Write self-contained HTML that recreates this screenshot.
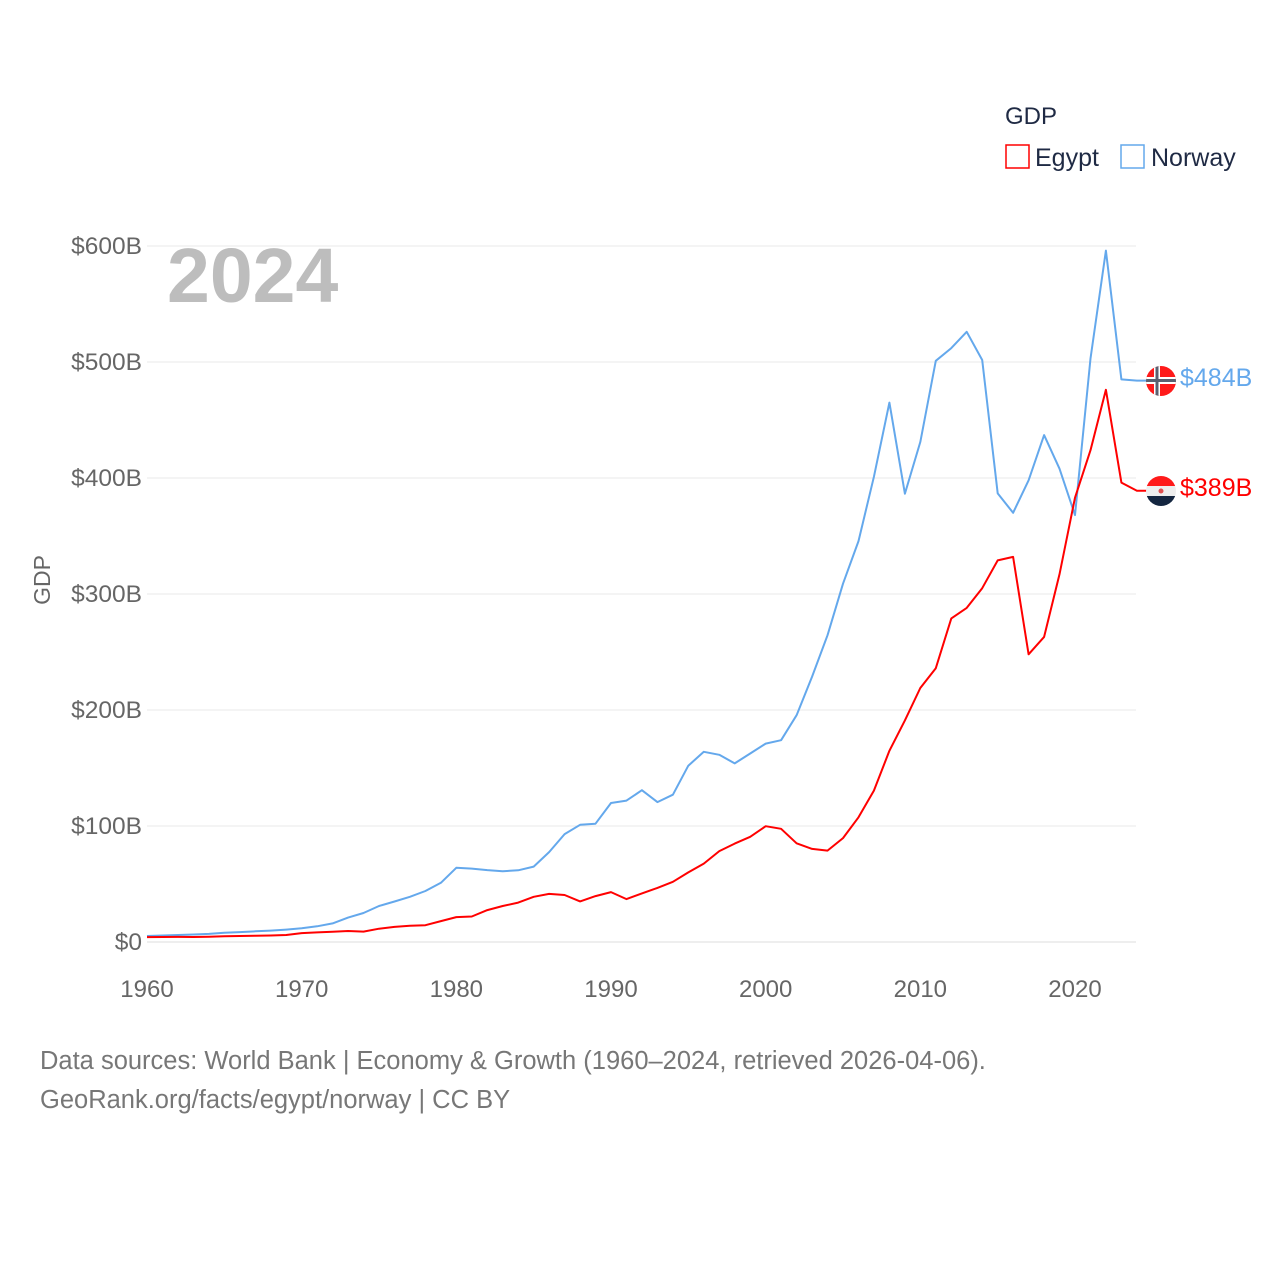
<!DOCTYPE html>
<html><head><meta charset="utf-8"><style>
body{margin:0;background:#fff;}
svg text{font-family:"Liberation Sans",sans-serif;}
</style></head><body>
<svg width="1280" height="1280" viewBox="0 0 1280 1280">
<g id="grid"></g>
<g id="yt"></g>
<g id="xt"></g>
<text x="167" y="302" font-size="77" font-weight="bold" fill="#bdbdbd">2024</text>
<text transform="translate(50,580) rotate(-90)" text-anchor="middle" font-size="23" fill="#666">GDP</text>
<text x="1005" y="124" font-size="24" fill="#1f2a44">GDP</text>
<g><rect x="1006" y="145" width="23" height="23" fill="none" stroke="#ff0000" stroke-width="1.5"/><text x="1035" y="166" font-size="25" fill="#1f2a44">Egypt</text></g>
<g><rect x="1121" y="145" width="23" height="23" fill="none" stroke="#64a8ec" stroke-width="1.5"/><text x="1151" y="166" font-size="25" fill="#1f2a44">Norway</text></g>
<g id="lines"></g>
<g>
<clipPath id="cn"><circle cx="1161" cy="381" r="15"/></clipPath>
<g clip-path="url(#cn)"><rect x="1146" y="366" width="30" height="30" fill="#ff1a1a"/><rect x="1154" y="366" width="6" height="30" fill="#fff"/><rect x="1146" y="377" width="30" height="7" fill="#fff"/><rect x="1155.5" y="366" width="3" height="30" fill="#5a6070"/><rect x="1146" y="379" width="30" height="3" fill="#5a6070"/></g>
<text x="1180" y="386" font-size="25" fill="#64a8ec">$484B</text></g>
<g>
<clipPath id="ce"><circle cx="1161" cy="491" r="15"/></clipPath>
<g clip-path="url(#ce)"><rect x="1146" y="476" width="30" height="10" fill="#ff1a1a"/><rect x="1146" y="486" width="30" height="10" fill="#eee"/><rect x="1146" y="496" width="30" height="11" fill="#142640"/><circle cx="1161" cy="491" r="2.5" fill="#e05050"/></g>
<text x="1180" y="496" font-size="25" fill="#ff0000">$389B</text></g>
<text x="40" y="1069" font-size="25.5" fill="#777">Data sources: World Bank | Economy &amp; Growth (1960–2024, retrieved 2026-04-06).</text>
<text x="40" y="1108" font-size="25.5" fill="#777">GeoRank.org/facts/egypt/norway | CC BY</text>
</svg>
<script>
const years=[];for(let y=1960;y<=2024;y++)years.push(y);
const norway=[5.2,5.6,6,6.5,7,7.9,8.5,9.2,9.8,10.7,11.8,13.5,16,21,25,31,34.9,39,44,51,64,63.3,62,61,61.8,65,77.5,93,101,102,119.8,121.9,130.9,120.6,127,152,164,161.4,154,162.5,171,174,195.5,228.8,264.4,308.9,345.6,401,465,386.5,431,501,512,526,501.7,386.7,370,398,437,408,368,503,596,485,484];
const egypt=[4.2,4.3,4.4,4.3,4.6,4.9,5.2,5.4,5.6,6.0,7.7,8.3,8.9,9.5,9.0,11.5,13,14,14.5,18,21.5,22,27.5,31,34,39,41.5,40.5,35,39.6,43,37,41.9,46.6,51.9,60,67.6,78.4,84.8,90.7,99.8,97.6,85.1,80.3,78.8,89.6,107.5,130.5,164.8,191,219,236,279,288,305,329,332,248,263,317,383,424,476,396,389];
const yTicks=[0,100,200,300,400,500,600];
const xTicks=[1960,1970,1980,1990,2000,2010,2020];
const NS='http://www.w3.org/2000/svg';
const X=v=>147+(v-1960)*(1075-147)/60;
const Y=v=>942-v*1.16;
function mk(t,a,p){const e=document.createElementNS(NS,t);for(const k in a)e.setAttribute(k,a[k]);p.appendChild(e);return e;}
const grid=document.getElementById('grid'),yt=document.getElementById('yt'),xt=document.getElementById('xt'),lines=document.getElementById('lines');
yTicks.forEach(v=>{
 const l=mk('line',{x1:147,x2:1136,y1:Y(v),y2:Y(v),stroke:v===0?'#ddd':'#e8e8e8','stroke-width':1},grid);
 
 
 const t=mk('text',{x:142,y:Y(v)+8,'text-anchor':'end','font-size':24.5,fill:'#666'},yt);
 t.textContent='$'+v+(v?'B':'');
 
 
});
xTicks.forEach(v=>{
 const t=mk('text',{x:X(v),y:997,'text-anchor':'middle','font-size':24,fill:'#666'},xt);
 t.textContent=v;
 
 
});
function draw(vals,col,name,lx){
 let d=vals.map((v,i)=>(i?'L':'M')+X(years[i]).toFixed(1)+','+Y(v).toFixed(1)).join(' ');
 d+=' L'+lx+','+Y(vals[vals.length-1]).toFixed(1);
 const p=mk('path',{d:d,fill:'none',stroke:col,'stroke-width':2,'stroke-linejoin':'round'},lines);
 
 
}
draw(norway,'#64a8ec','norway-line',1150);
draw(egypt,'#ff0000','egypt-line',1150);
</script>
</body></html>
